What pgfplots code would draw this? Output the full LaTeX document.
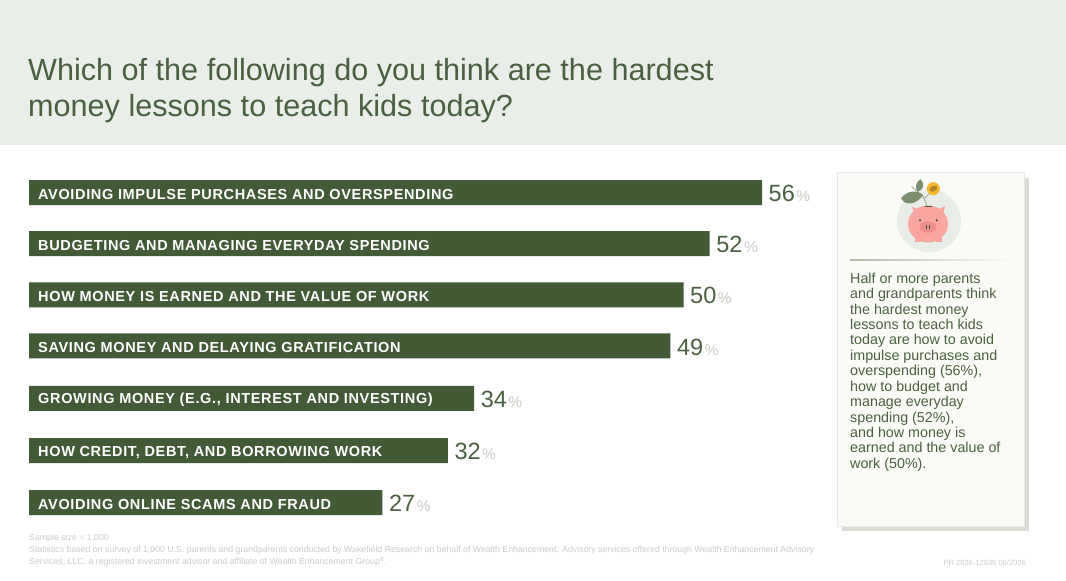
\documentclass[border=0pt]{standalone}
\usepackage{pgfplots}
\usepackage{fontspec}
\pgfplotsset{compat=1.18}
\setmainfont{Liberation Sans}
\newfontfamily\barfont[LetterSpace=4.5]{Liberation Sans}
\definecolor{hdr}{HTML}{E9EEE8}
\definecolor{ttl}{HTML}{4A6040}
\definecolor{barc}{HTML}{435A36}
\definecolor{card}{HTML}{FAFBF6}
\definecolor{cardedge}{HTML}{E8E9E4}
\definecolor{shad}{HTML}{D9DCD5}
\definecolor{foot}{HTML}{CBCEC7}
\definecolor{pct}{HTML}{C8CDC4}
\definecolor{pig}{HTML}{F9A5A0}
\definecolor{pigd}{HTML}{EE8F8C}
\definecolor{leaf}{HTML}{7C8E70}
\definecolor{circ}{HTML}{E8EDE8}
\definecolor{coin}{HTML}{F5B82E}
\definecolor{coind}{HTML}{B8862A}
\begin{document}
\begin{tikzpicture}[x=1pt,y=1pt]
\useasboundingbox (0,0) rectangle (1066,581);
\fill[white] (0,0) rectangle (1066,581);
\fill[hdr] (0,436) rectangle (1066,581);
\node[anchor=base west,inner sep=0,text=ttl,font=\fontsize{30.6}{36}\selectfont] at (28,500) {Which of the following do you think are the hardest};
\node[anchor=base west,inner sep=0,text=ttl,font=\fontsize{30.6}{36}\selectfont] at (28,464) {money lessons to teach kids today?};
% card
\fill[shad] (842,50) rectangle (1028.5,403);
\fill[card,draw=cardedge,line width=0.7pt] (837,55) rectangle (1024,408.5);
% piggy illustration
\fill[circ] (929,360.3) circle [x radius=32,y radius=31.5];
\draw[leaf!70,line width=0.9pt] (927.3,374.3) -- (923.3,384.3) -- (911.7,394.3);
\draw[leaf!70,line width=0.9pt] (924,382) -- (930,388);
\fill[leaf] (901,382.7) .. controls (907,391) and (918,391) .. (923,386) .. controls (917,377) and (906,374) .. (901,382.7) -- cycle;
\fill[leaf] (917.3,389.3) .. controls (914,395) and (917,400) .. (920.7,401.7) .. controls (925,397) and (924,391) .. (917.3,389.3) -- cycle;
\fill[coin] (933.3,392.3) circle [radius=6.5];
\fill[coind,rotate around={25:(933.3,392.3)}] (933.3,392.3) circle [x radius=4.2,y radius=2.7];
\fill[pig] (912,374) -- (921,371) -- (915,366) -- cycle;
\fill[pig] (945,375) -- (937,371) -- (943,366) -- cycle;
\fill[pig] (928,357) circle [x radius=20,y radius=18.5];
\fill[pig] (915,339) rectangle (921,344);
\fill[pig] (936,339) rectangle (942,344);
\fill[pigd] (928,354) circle [x radius=8.5,y radius=5.7];
\fill[barc!80!black] (920,360.7) circle [radius=1.1];
\fill[barc!80!black] (936.7,360.7) circle [radius=1.1];
\fill[barc] (925.7,352) rectangle (926.9,356);
\fill[barc] (929.1,352) rectangle (930.3,356);
\fill[barc] (925,374.6) rectangle (932,373.6);
\shade[left color=leaf!60,right color=card] (850,320.5) rectangle (1012,321);
\node[anchor=north west,inner sep=0,text=ttl,align=left,font=\fontsize{14.3}{15.42}\selectfont] at (850,308.3) {Half or more parents\\and grandparents think\\the hardest money\\lessons to teach kids\\today are how to avoid\\impulse purchases and\\overspending (56\%),\\how to budget and\\manage everyday\\spending (52\%),\\and how money is\\earned and the value of\\work (50\%).};
% footer
\node[anchor=base west,inner sep=0,text=foot,font=\fontsize{8.76}{10}\selectfont] at (29,40) {Sample size = 1,000};
\node[anchor=base west,inner sep=0,text=foot,font=\fontsize{8.76}{10}\selectfont] at (29,28) {Statistics based on survey of 1,000 U.S. parents and grandparents conducted by Wakefield Research on behalf of Wealth Enhancement. Advisory services offered through Wealth Enhancement Advisory};
\node[anchor=base west,inner sep=0,text=foot,font=\fontsize{8.76}{10}\selectfont] at (29,16) {Services, LLC, a registered investment advisor and affiliate of Wealth Enhancement Group\textsuperscript{\textregistered}.};
\node[anchor=base east,inner sep=0,text=foot,font=\fontsize{7.55}{10}\selectfont] at (1026,15) {PR 2026-12835 06/2026};
% chart
\begin{axis}[
  at={(29pt,51.6pt)},anchor=south west,
  scale only axis,width=785pt,height=362.8pt,
  xmin=0,xmax=59.97,ymin=-0.5,ymax=6.5,
  axis lines=none,clip=false,
  y dir=reverse,
  xbar,bar width=25pt,bar shift=0pt,
  ytick=\empty,
  point meta=explicit symbolic,
  nodes near coords={\fontsize{23.5}{26}\selectfont\color{ttl}\pgfplotspointmeta\hspace{1.5pt}{\fontsize{15.5}{16}\selectfont\color{pct}\%}},
  every node near coord/.append style={anchor=west,inner sep=0,xshift=6.5pt,yshift=-1pt},
]
\addplot[fill=barc,draw=none] coordinates {
 (56,0)[56] (52,0.984)[52] (50,1.973)[50] (49,2.961)[49] (34,3.97)[34] (32,4.98)[32] (27,5.985)[27]};
\end{axis}
\begin{axis}[
  at={(29pt,51.6pt)},anchor=south west,
  scale only axis,width=785pt,height=362.8pt,
  xmin=0,xmax=59.97,ymin=-0.5,ymax=6.5,
  axis lines=none,clip=false,y dir=reverse,
  ytick=\empty,
  nodes near coords,
  point meta=explicit symbolic,
  nodes near coords style={anchor=west,inner sep=0,text=white,xshift=9pt,yshift=-1.5pt,font=\barfont\bfseries\fontsize{14.5}{16}\selectfont},
]
\addplot[only marks,mark=none,draw=none] coordinates {
 (0,0)[AVOIDING IMPULSE PURCHASES AND OVERSPENDING]
 (0,0.984)[BUDGETING AND MANAGING EVERYDAY SPENDING]
 (0,1.973)[HOW MONEY IS EARNED AND THE VALUE OF WORK]
 (0,2.961)[SAVING MONEY AND DELAYING GRATIFICATION]
 (0,3.97)[GROWING MONEY (E.G., INTEREST AND INVESTING)]
 (0,4.98)[HOW CREDIT, DEBT, AND BORROWING WORK]
 (0,5.985)[AVOIDING ONLINE SCAMS AND FRAUD]};
\end{axis}
\end{tikzpicture}
\end{document}
